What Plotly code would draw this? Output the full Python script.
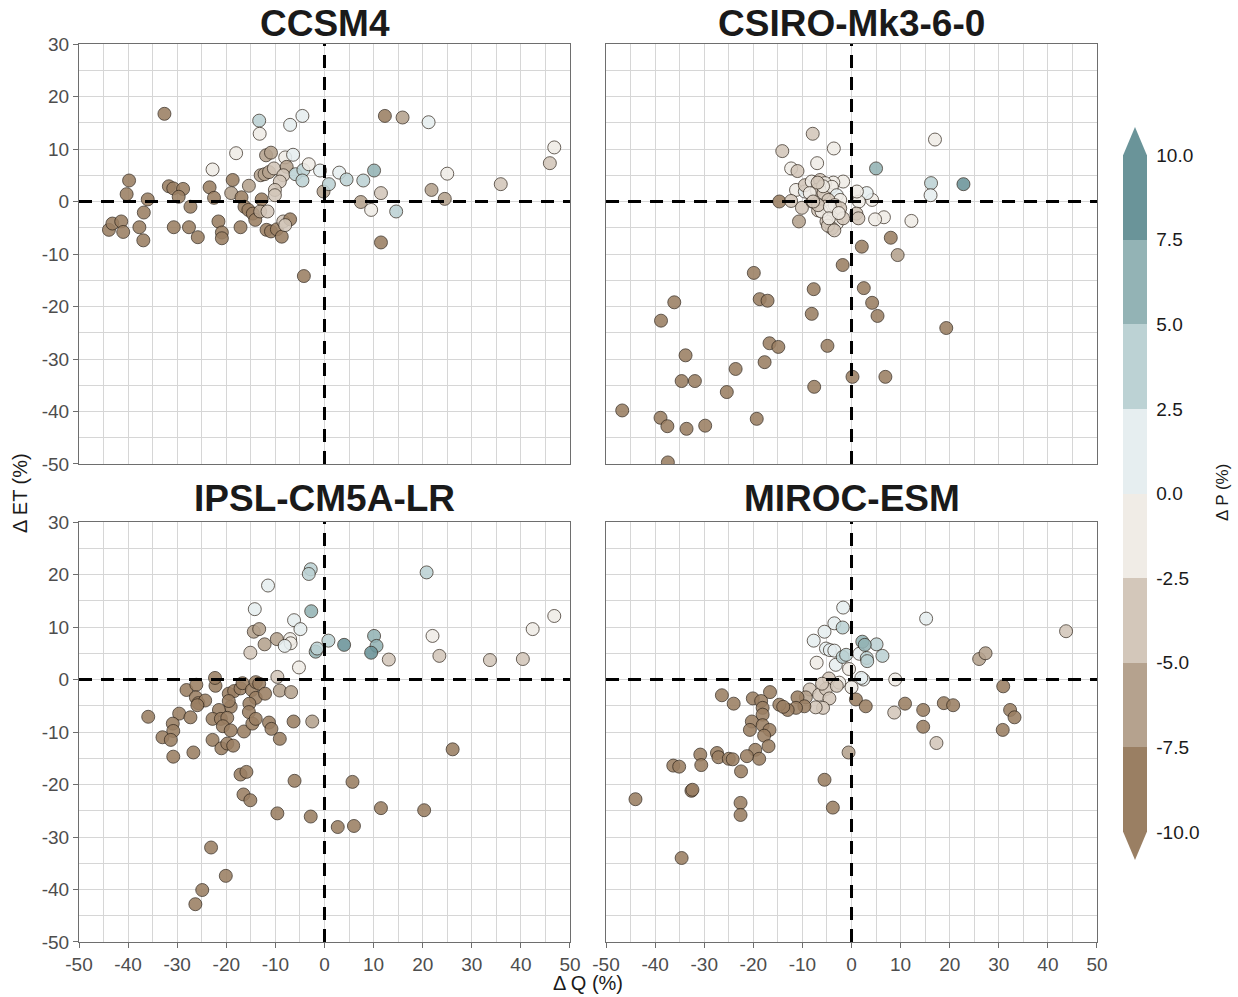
import plotly.graph_objects as go
from plotly.subplots import make_subplots

# ---------------- data (ΔQ %, ΔET %, ΔP %) ----------------
ccsm4_q = [-32.6,-13.3,-13.2,-7.0,-4.5,-18.0,-22.8,-39.8,-40.3,-36.0,-43.9,-43.2,-41.4,-41.0,-36.8,-37.7,-36.9,
           -31.7,-30.8,-28.8,-29.7,-27.3,-30.7,-27.6,-25.8,-23.4,-22.5,-21.6,-20.9,-20.9,-18.7,-19.0,-15.4,-16.9,
           -17.1,-16.3,-15.5,-14.6,-14.1,-12.8,-13.1,-11.6,-13.0,-12.2,-11.3,-11.9,-10.9,-10.3,-8.0,-6.4,-7.7,-8.4,
           -9.1,-10.1,-10.1,-5.9,-4.3,-4.5,-3.2,-0.9,-11.8,-10.9,-9.7,-8.7,-8.4,-7.0,-8.0,-0.2,0.9,3.0,4.5,7.9,
           10.1,7.4,9.5,11.5,14.6,11.5,12.3,15.9,21.2,21.8,24.5,25.0,35.9,45.9,46.8,-4.2]
ccsm4_et = [16.7,15.4,12.9,14.6,16.3,9.2,6.1,4.0,1.4,0.4,-5.4,-4.2,-3.8,-5.8,-2.1,-4.9,-7.4,
            2.9,2.5,2.4,0.9,-1.0,-4.9,-4.9,-6.8,2.7,0.7,-3.8,-5.9,-7.0,4.1,1.6,3.0,0.8,
            -4.9,-1.0,-1.6,-2.3,-3.5,0.4,-1.9,-1.9,5.0,5.2,5.6,8.8,9.3,6.3,8.4,8.9,6.6,5.0,
            3.8,2.2,1.2,5.2,6.0,4.0,7.1,5.9,-5.4,-5.7,-5.3,-6.7,-3.8,-3.4,-4.5,1.9,3.3,5.5,4.2,4.0,
            5.9,-0.1,-1.6,1.6,-1.9,-7.8,16.3,16.0,15.1,2.2,0.5,5.3,3.3,7.3,10.3,-14.2]
ccsm4_p = [-9.5,3.9,-1.1,1.2,1.4,-1.0,-1.3,-9.8,-10.2,-9.1,-11.0,-9.6,-10.4,-9.3,-8.8,-10.1,-9.9,
           -9.4,-10.6,-8.9,-9.7,-10.3,-9.2,-10.8,-9.0,-9.5,-10.0,-9.3,-9.8,-10.5,-8.7,-6.1,-5.9,-9.1,
           -9.6,-10.2,-9.4,-8.9,-10.7,-9.3,-6.4,-3.6,-6.3,-5.8,-6.0,-6.2,-5.7,-3.9,-1.2,1.1,-6.1,-3.7,
           -4.1,-3.8,-4.2,3.6,3.9,4.1,-1.0,1.2,-9.7,-10.1,-9.2,-10.4,-3.9,-9.5,-3.7,-6.2,3.8,1.3,3.7,4.0,
           6.3,-6.0,-1.1,-3.8,3.6,-9.4,-9.2,-6.3,1.2,-6.1,-6.2,-1.2,-3.8,-3.9,-1.0,-9.5]

csiro_q = [-14.7,8.0,2.1,-1.8,-19.9,-7.7,2.5,-36.1,-18.7,-17.1,4.2,-38.8,-8.1,5.3,19.3,-16.7,-14.9,-4.9,
           -33.8,-17.7,-23.6,-34.6,-31.9,0.2,6.9,-25.4,-7.6,-46.7,-38.9,-37.5,-33.6,-29.8,-19.3,-37.4,
           9.4,-10.7,
           -7.9,-3.6,-14.1,-7.0,-12.3,-11.0,5.0,17.0,16.2,22.8,16.1,12.2,6.6,4.8,4.2,3.1,1.5,1.1,1.0,1.4,
           -1.7,-3.7,-11.3,-9.5,-12.3,-10.1,-8.0,-6.8,
           -9.5,-8.1,-6.4,-5.4,-7.1,-8.5,-5.7,-4.0,-3.0,-2.3,-4.7,-5.4,-4.4,-3.7,-3.0,-4.0,-5.1,-6.1,-6.8,
           -7.8,-3.4,-2.3,-1.7,-4.4,-4.8,-3.5,-5.8,-6.9,-4.6,-2.6]
csiro_et = [0.0,-6.9,-8.6,-12.1,-13.6,-16.7,-16.5,-19.2,-18.6,-18.9,-19.3,-22.7,-21.4,-21.8,-24.1,-27.0,-27.7,-27.5,
            -29.3,-30.6,-31.9,-34.2,-34.2,-33.4,-33.4,-36.3,-35.3,-39.8,-41.2,-42.8,-43.3,-42.7,-41.4,-49.7,
            -10.2,-3.8,
            12.9,10.1,9.6,7.3,6.3,5.8,6.3,11.8,3.5,3.3,1.2,-3.7,-3.0,-3.4,0.3,1.6,0.0,1.9,-2.3,-3.2,
            3.8,3.6,2.2,1.9,0.1,-1.2,0.0,-1.7,
            3.1,3.8,4.1,3.5,2.2,1.6,1.6,2.8,1.2,0.3,0.3,-1.0,-1.9,-2.9,-4.2,-5.1,-3.8,-1.9,-0.7,
            0.0,-0.7,-1.3,-3.2,-1.0,-4.6,-5.5,2.9,3.6,-3.2,-2.2]
csiro_p = [-9.3,-9.8,-10.2,-9.5,-9.1,-10.4,-9.7,-10.8,-9.2,-9.9,-10.1,-9.4,-10.6,-9.0,-9.6,-10.3,-9.8,-9.2,
           -10.5,-9.4,-9.9,-10.7,-9.1,-9.6,-10.2,-9.3,-9.8,-11.0,-9.5,-10.1,-9.7,-10.4,-9.0,-10.9,
           -6.1,-6.0,
           -3.8,-1.1,-3.7,-1.2,-1.0,-3.9,6.2,-1.1,3.8,8.9,1.3,-1.2,-1.0,-1.3,-1.1,1.2,-1.0,-1.2,-3.7,-3.9,
           -1.1,-1.0,-1.2,1.1,-3.8,-3.9,-3.7,-3.8,
           -3.8,-1.1,-3.7,-1.2,-3.9,-1.0,-3.6,-1.1,1.2,-1.3,-3.8,-3.7,-1.2,-3.9,-1.0,-3.8,-3.7,-1.1,-3.9,
           -3.8,-1.2,-3.6,-3.8,-1.1,-3.9,-3.7,-1.2,-3.8,-1.0,-1.1]

ipsl_q = [-2.8,-3.2,-11.5,-14.2,-2.7,-6.2,-4.9,-14.4,-13.3,-9.7,-12.2,-7.0,-6.9,-8.1,-1.8,-1.5,0.8,-15.1,-5.2,
          -9.6,-9.1,-6.8,-2.5,
          -28.1,-26.1,-26.2,-25.7,-24.3,-25.9,-22.2,-22.3,-19.5,-18.4,-17.1,-16.7,-14.8,-14.0,-13.3,-14.0,-15.3,
          -15.4,-12.1,-19.1,-19.5,-21.5,-22.8,-21.1,-19.8,-20.7,-19.1,-16.4,-14.7,-14.0,-11.3,-10.8,-6.3,-9.1,
          -35.9,-29.6,-27.3,-30.9,-30.8,-33.0,-31.3,-30.8,-26.7,-22.8,-21.0,-19.8,-18.6,-17.1,-15.9,-6.1,-16.5,
          -15.1,-9.6,-2.8,-23.1,-20.1,-24.9,-26.3,26.1,5.7,11.5,20.3,2.7,6.0,
          20.8,4.0,10.1,10.6,9.5,13.1,22.0,23.4,33.7,40.4,42.4,46.8]
ipsl_et = [21.0,20.1,17.9,13.4,13.0,11.3,9.6,9.1,9.6,7.7,6.7,7.7,6.9,6.4,5.3,5.9,7.4,5.1,2.3,
           0.5,-2.1,-2.4,-8.0,
           -2.0,-1.0,-3.4,-4.5,-4.0,-4.9,-1.2,0.3,-2.7,-2.2,-1.7,-0.7,-2.0,-0.5,-0.8,-3.5,-4.6,
           -6.2,-2.7,-5.2,-4.1,-5.8,-7.5,-7.5,-7.3,-8.9,-9.7,-9.9,-8.4,-7.5,-8.2,-9.4,-8.0,-11.3,
           -7.1,-6.5,-7.2,-8.4,-9.8,-11.0,-11.5,-14.7,-13.9,-11.5,-13.1,-12.2,-12.6,-18.1,-17.6,-19.3,-21.9,
           -23.0,-25.5,-26.1,-32.0,-37.4,-40.1,-42.8,-13.3,-19.5,-24.5,-24.9,-28.1,-27.9,
           20.4,6.6,8.3,6.4,5.1,3.8,8.3,4.5,3.7,3.9,9.6,12.1]
ipsl_p = [3.8,4.1,1.2,1.1,6.3,1.3,1.2,-6.1,-6.0,-6.2,-6.1,-1.1,-1.2,1.2,6.2,4.0,3.8,-3.8,-1.1,
          -3.9,-6.0,-6.2,-6.1,
          -9.4,-10.2,-9.7,-9.1,-10.5,-9.8,-9.3,-10.0,-9.6,-10.3,-9.2,-9.9,-10.6,-9.5,-9.0,-10.1,-9.7,
          -9.4,-10.4,-9.8,-9.2,-10.7,-9.6,-9.3,-10.0,-9.5,-9.9,-10.2,-9.1,-9.7,-10.3,-9.4,-9.8,-10.1,
          -9.6,-10.5,-9.3,-9.9,-10.0,-9.2,-10.8,-9.5,-9.7,-10.2,-9.4,-9.8,-10.1,-9.6,-9.3,-10.4,-9.9,
          -9.5,-10.0,-9.7,-10.6,-9.2,-9.8,-10.3,-9.6,-9.4,-10.1,-9.9,-9.5,-10.2,
          3.9,8.8,6.1,6.3,8.9,-3.8,-1.1,-3.9,-3.7,-3.8,-1.0,-1.2]

miroc_q = [-1.7,-3.5,-5.5,-7.7,-5.2,-4.4,-3.5,-3.2,15.2,1.6,2.4,2.0,
           -1.8,-1.8,-1.1,5.1,3.1,3.2,6.3,2.2,2.7,
           -7.1,8.9,-2.5,0.0,-0.5,
           -4.6,-8.5,-6.6,-5.2,-4.5,-5.8,-7.3,8.7,17.3,43.7,-3.0,-6.0,
           -9.3,26.0,27.3,-0.6,
           -11.0,-9.6,-11.3,-13.0,-14.7,-13.9,-16.6,-20.1,-18.4,-18.1,-26.4,-24.0,-20.3,-20.7,-18.1,-18.1,-16.7,
           -17.8,-16.9,-19.6,-18.8,-21.3,-27.4,-27.1,-25.0,-24.2,-30.8,-30.6,-36.3,-35.1,-22.5,-32.6,-32.4,-44.0,
           -22.6,-22.6,-34.6,-5.5,-3.8,0.9,2.9,10.9,14.6,14.6,18.8,20.7,30.9,32.3,33.2,30.8]
miroc_et = [13.7,10.7,9.1,7.4,5.9,5.6,5.5,2.8,11.6,4.9,0.0,0.3,
            9.9,4.3,4.7,6.7,4.1,3.5,4.5,7.2,6.6,
            3.2,0.0,-0.6,-1.5,2.0,
            0.2,-1.9,-2.9,-1.8,-3.6,-5.4,-5.3,-6.3,-12.1,9.2,-1.2,-0.8,
            -3.4,3.9,5.0,-13.9,
            -3.4,-5.1,-5.4,-5.8,-4.8,-5.2,-2.4,-3.6,-4.1,-5.4,-3.0,-4.6,-8.0,-9.6,-6.7,-8.7,-9.6,
            -10.7,-12.7,-13.4,-15.1,-14.6,-14.0,-14.8,-15.1,-15.2,-14.3,-16.3,-16.4,-16.6,-17.5,-21.2,-21.0,-22.8,
            -23.5,-25.8,-34.0,-19.1,-24.4,-3.8,-5.1,-4.6,-5.8,-9.0,-4.5,-4.9,-1.3,-5.8,-7.2,-9.6]
miroc_p = [1.2,1.3,1.1,1.4,1.2,1.3,1.1,1.2,1.3,1.2,1.1,1.4,
           3.8,3.9,3.7,4.0,3.8,3.6,3.9,6.2,6.3,
           -1.1,-1.2,-1.0,-1.3,-1.1,
           -3.8,-3.7,-3.9,-3.6,-3.8,-3.9,-3.7,-3.8,-3.9,-3.7,-3.8,-3.6,
           -6.1,-6.2,-6.0,-6.1,
           -9.4,-10.2,-9.7,-9.1,-10.5,-9.8,-9.3,-10.0,-9.6,-10.3,-9.2,-9.9,-10.6,-9.5,-9.0,-10.1,-9.7,
           -9.4,-10.4,-9.8,-9.2,-10.7,-9.6,-9.3,-10.0,-9.5,-9.9,-10.2,-9.1,-9.7,-10.3,-9.4,-9.8,-10.1,
           -9.6,-10.5,-9.3,-9.9,-10.0,-9.2,-10.8,-9.5,-9.7,-10.2,-9.4,-9.8,-10.1,-9.6,-9.3,-10.4]

panel_titles = ["CCSM4", "CSIRO-Mk3-6-0", "IPSL-CM5A-LR", "MIROC-ESM"]
panels = [(ccsm4_q, ccsm4_et, ccsm4_p), (csiro_q, csiro_et, csiro_p),
          (ipsl_q, ipsl_et, ipsl_p), (miroc_q, miroc_et, miroc_p)]

x_ticks = [-50, -40, -30, -20, -10, 0, 10, 20, 30, 40, 50]
y_ticks = [-50, -40, -30, -20, -10, 0, 10, 20, 30]
cbar_ticks = [-10, -7.5, -5, -2.5, 0, 2.5, 5, 7.5, 10]
bin_colors = ["#9a7f63", "#b5a28e", "#d3c7ba", "#f0ece6",
              "#e6eef0", "#bcd2d4", "#93b3b5", "#6a9499"]

# ---------------- figure ----------------
FONT = "Liberation Sans, Arial, sans-serif"
colorscale = []
for i, c in enumerate(bin_colors):
    colorscale.append([i / 8, c])
    colorscale.append([(i + 1) / 8, c])

fig = make_subplots(rows=2, cols=2, horizontal_spacing=0.0354, vertical_spacing=0.0646)

# body margin is removed in the page (post_script), so figure pixels == page pixels
W, H = 1238, 997
ML, MR, MT, MB = 79, 141, 44, 55
PW, PH = W - ML - MR, H - MT - MB


def px_x(p):  # page pixel -> paper x
    return (p - ML) / PW


def px_y(p):  # page pixel -> paper y
    return (H - MB - p) / PH


def lab(v):
    return ("%g" % v).replace("\u2212", "-")


for k, (q, et, p) in enumerate(panels):
    r, c = k // 2 + 1, k % 2 + 1
    fig.add_trace(go.Scatter(
        x=q, y=et, mode="markers", showlegend=False,
        marker=dict(size=13, color=p, colorscale=colorscale, cmin=-10, cmax=10,
                    opacity=0.88, line=dict(width=1, color="rgba(45,35,25,0.8)"),
                    showscale=(k == 0),
                    colorbar=dict(
                        tickmode="array", tickvals=cbar_ticks,
                        ticktext=["%.1f" % v for v in cbar_ticks],
                        ticks="outside", ticklen=6, tickcolor="rgba(0,0,0,0)",
                        thickness=24, lenmode="pixels", len=677,
                        x=px_x(1123), xanchor="left", y=px_y(493.5), yanchor="middle",
                        xpad=0, ypad=0, outlinewidth=0,
                        tickfont=dict(family=FONT, size=19, color="#1a1a1a"),
                    )),
    ), row=r, col=c)
    fig.add_hline(y=0, row=r, col=c, line=dict(color="black", width=3, dash="13px,9px"))
    fig.add_vline(x=0, row=r, col=c, line=dict(color="black", width=3, dash="13px,9px"))

axis_common = dict(showgrid=True, gridcolor="#d6d6d6", gridwidth=1, zeroline=False,
                   showline=True, mirror=True, linecolor="#6e6e6e", linewidth=1,
                   tickfont=dict(family=FONT, size=19, color="#4d4d4d"),
                   ticklen=5, tickcolor="#6e6e6e",
                   minor=dict(tickmode="linear", tick0=0, dtick=5, showgrid=True,
                              gridcolor="#d6d6d6", gridwidth=1, ticks=""))
for k in range(4):
    r, c = k // 2 + 1, k % 2 + 1
    fig.update_xaxes(range=[-50, 50], tickmode="array", tickvals=x_ticks,
                     ticktext=[lab(v) for v in x_ticks], **axis_common,
                     showticklabels=(r == 2), ticks="outside" if r == 2 else "",
                     row=r, col=c)
    fig.update_yaxes(range=[-50, 30], tickmode="array", tickvals=y_ticks,
                     ticktext=[lab(v) for v in y_ticks], **axis_common,
                     showticklabels=(c == 1), ticks="outside" if c == 1 else "",
                     row=r, col=c)

annotations = []
centers_x = [px_x((79 + 570) / 2), px_x((606 + 1097) / 2)]
title_y = [px_y(24), px_y(498)]
for k, t in enumerate(panel_titles):
    annotations.append(dict(text=f"<b>{t}</b>", x=centers_x[k % 2], y=title_y[k // 2],
                            xref="paper", yref="paper", showarrow=False,
                            xanchor="center", yanchor="middle",
                            font=dict(family=FONT, size=37, color="#1a1a1a")))
annotations.append(dict(text="Δ Q (%)", x=px_x(588), y=px_y(983), xref="paper", yref="paper",
                        showarrow=False, xanchor="center", yanchor="middle",
                        font=dict(family=FONT, size=20, color="#1a1a1a")))
annotations.append(dict(text="Δ ET (%)", x=px_x(20), y=px_y(493), xref="paper", yref="paper",
                        showarrow=False, textangle=-90, xanchor="center", yanchor="middle",
                        font=dict(family=FONT, size=20, color="#1a1a1a")))
annotations.append(dict(text="Δ P (%)", x=px_x(1222), y=px_y(493), xref="paper", yref="paper",
                        showarrow=False, textangle=-90, xanchor="center", yanchor="middle",
                        font=dict(family=FONT, size=17, color="#1a1a1a")))

# colorbar extension triangles
shapes = [
    dict(type="path", xref="paper", yref="paper", line=dict(width=0), fillcolor=bin_colors[-1],
         path=f"M {px_x(1123)} {px_y(155.5)} L {px_x(1147)} {px_y(155.5)} L {px_x(1135)} {px_y(127)} Z"),
    dict(type="path", xref="paper", yref="paper", line=dict(width=0), fillcolor=bin_colors[0],
         path=f"M {px_x(1123)} {px_y(831.5)} L {px_x(1147)} {px_y(831.5)} L {px_x(1135)} {px_y(860)} Z"),
]

fig.update_layout(width=W, height=H, margin=dict(l=ML, r=MR, t=MT, b=MB, autoexpand=False),
                  plot_bgcolor="white", paper_bgcolor="white",
                  annotations=list(fig.layout.annotations) + annotations,
                  shapes=list(fig.layout.shapes) + shapes,
                  font=dict(family=FONT))

fig.write_html("out.html", config={"displayModeBar": False},
               post_script="document.body.style.margin='0';document.body.style.overflow='hidden';")
